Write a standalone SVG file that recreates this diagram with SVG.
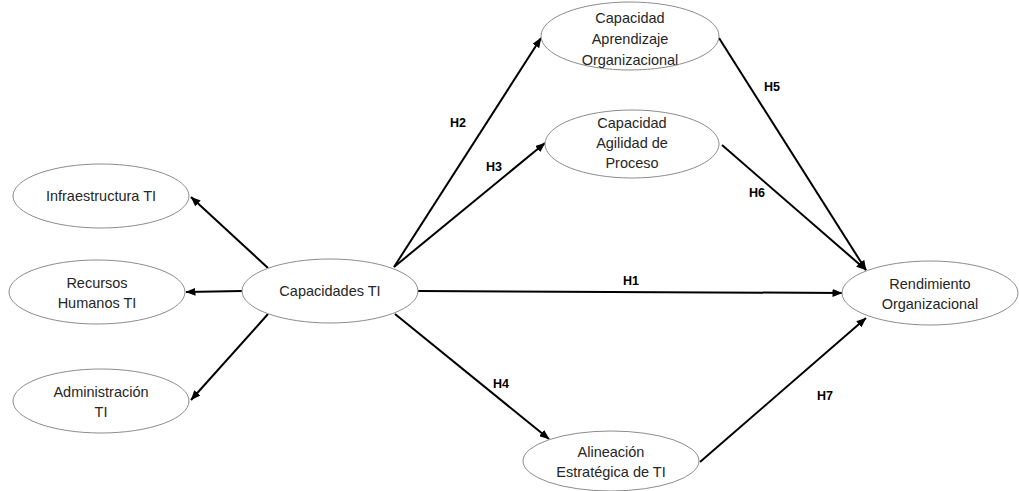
<svg xmlns="http://www.w3.org/2000/svg" width="1019" height="491" viewBox="0 0 1019 491">
<style>
.n ellipse{fill:#fff;stroke:#8c8c8c;stroke-width:1}
.n text{font-family:"Liberation Sans",Arial,sans-serif;font-size:14.5px;fill:#262626;text-anchor:middle}
.c line{stroke:#000;stroke-width:2;marker-end:url(#ah)}
.l{font-family:"Liberation Sans",Arial,sans-serif;font-size:12.5px;font-weight:bold;fill:#000;text-anchor:middle}
</style>
<defs>
<marker id="ah" markerWidth="10" markerHeight="8" refX="9.5" refY="4" orient="auto" markerUnits="userSpaceOnUse">
<path d="M0,0 L10,4 L0,8 Z" fill="#000"/>
</marker>
</defs>
<rect width="1019" height="491" fill="#fff"/>
<g class="c">
<line x1="268" y1="268" x2="191" y2="197"/>
<line x1="242" y1="291" x2="186" y2="292"/>
<line x1="268" y1="314" x2="191" y2="400"/>
<line x1="394" y1="267" x2="541" y2="38"/>
<line x1="394" y1="267" x2="545" y2="143"/>
<line x1="418" y1="291" x2="842" y2="293"/>
<line x1="395" y1="314" x2="549" y2="439"/>
<line x1="719" y1="38" x2="866" y2="270"/>
<line x1="722" y1="145" x2="866" y2="270"/>
<line x1="700" y1="462" x2="866" y2="318"/>
</g>
<g id="labels">
<text class="l" x="458" y="127">H2</text>
<text class="l" x="494" y="171">H3</text>
<text class="l" x="631" y="285">H1</text>
<text class="l" x="501" y="388">H4</text>
<text class="l" x="772" y="91">H5</text>
<text class="l" x="757" y="197">H6</text>
<text class="l" x="825" y="400">H7</text>
</g>
<g id="infra" class="n"><ellipse cx="101" cy="196" rx="88" ry="32"/><text x="101" y="201">Infraestructura TI</text></g>
<g id="rrhh" class="n"><ellipse cx="97" cy="292" rx="88" ry="32"/><text x="97" y="288">Recursos</text><text x="97" y="308">Humanos TI</text></g>
<g id="admin" class="n"><ellipse cx="101" cy="401" rx="88" ry="32"/><text x="101" y="397">Administración</text><text x="101" y="417">TI</text></g>
<g id="capti" class="n"><ellipse cx="330" cy="291" rx="88" ry="32"/><text x="330" y="296">Capacidades TI</text></g>
<g id="aprend" class="n"><ellipse cx="630" cy="36" rx="89" ry="34"/><text x="630" y="23">Capacidad</text><text x="630" y="44">Aprendizaje</text><text x="630" y="65">Organizacional</text></g>
<g id="agil" class="n"><ellipse cx="632" cy="144" rx="87" ry="34"/><text x="632" y="128">Capacidad</text><text x="632" y="148">Agilidad de</text><text x="632" y="168">Proceso</text></g>
<g id="alin" class="n"><ellipse cx="611" cy="461" rx="88" ry="30"/><text x="611" y="457">Alineación</text><text x="611" y="477">Estratégica de TI</text></g>
<g id="rend" class="n"><ellipse cx="930" cy="293" rx="88" ry="32"/><text x="930" y="289">Rendimiento</text><text x="930" y="309">Organizacional</text></g>
</svg>
